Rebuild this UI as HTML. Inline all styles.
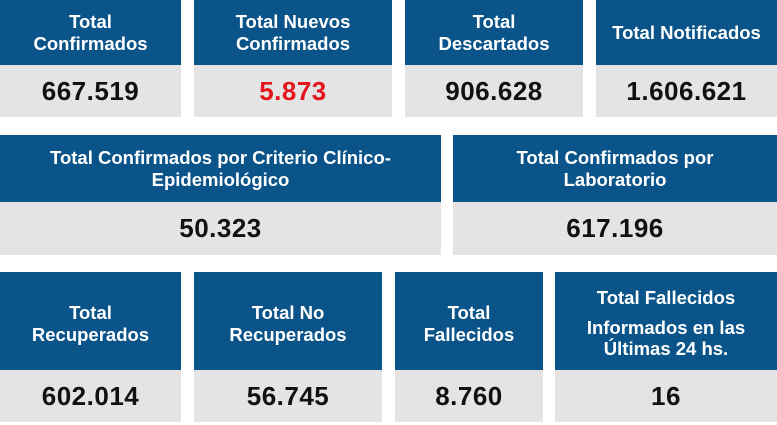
<!DOCTYPE html>
<html><head><meta charset="utf-8"><style>
body{margin:0;width:777px;height:425px;background:#fff;position:relative;overflow:hidden;font-family:"Liberation Sans",sans-serif;font-weight:bold}
.b{position:absolute;background:#0b5489;color:#fff;display:flex;align-items:center;justify-content:center;text-align:center;font-size:18.5px;line-height:22px}
.g{position:absolute;background:#e4e4e4;color:#111;display:flex;align-items:center;justify-content:center;font-size:26px;letter-spacing:0.5px}
.r3>div{margin-top:6px}
</style></head><body>
<div class="b" style="left:0;top:0;width:181px;height:65px"><div>Total<br>Confirmados</div></div>
<div class="g" style="left:0;top:65px;width:181px;height:52px">667.519</div>
<div class="b" style="left:194px;top:0;width:198px;height:65px"><div>Total Nuevos<br>Confirmados</div></div>
<div class="g" style="left:194px;top:65px;width:198px;height:52px;color:#e3161b">5.873</div>
<div class="b" style="left:405px;top:0;width:178px;height:65px"><div>Total<br>Descartados</div></div>
<div class="g" style="left:405px;top:65px;width:178px;height:52px">906.628</div>
<div class="b" style="left:596px;top:0;width:181px;height:65px"><div>Total Notificados</div></div>
<div class="g" style="left:596px;top:65px;width:181px;height:52px">1.606.621</div>

<div class="b" style="left:0;top:135px;width:441px;height:67px"><div>Total Confirmados por Criterio Clínico-<br>Epidemiológico</div></div>
<div class="g" style="left:0;top:202px;width:441px;height:53px">50.323</div>
<div class="b" style="left:453px;top:135px;width:324px;height:67px"><div>Total Confirmados por<br>Laboratorio</div></div>
<div class="g" style="left:453px;top:202px;width:324px;height:53px">617.196</div>

<div class="b r3" style="left:0;top:272px;width:181px;height:98px"><div>Total<br>Recuperados</div></div>
<div class="g" style="left:0;top:370px;width:181px;height:52px">602.014</div>
<div class="b r3" style="left:194px;top:272px;width:188px;height:98px"><div>Total No<br>Recuperados</div></div>
<div class="g" style="left:194px;top:370px;width:188px;height:52px">56.745</div>
<div class="b r3" style="left:395px;top:272px;width:148px;height:98px"><div>Total<br>Fallecidos</div></div>
<div class="g" style="left:395px;top:370px;width:148px;height:52px">8.760</div>
<div class="b" style="left:555px;top:272px;width:222px;height:98px;line-height:21px"><div style="margin-top:4px">Total Fallecidos<div style="height:9px"></div>Informados en las<br>Últimas 24 hs.</div></div>
<div class="g" style="left:555px;top:370px;width:222px;height:52px">16</div>
</body></html>
